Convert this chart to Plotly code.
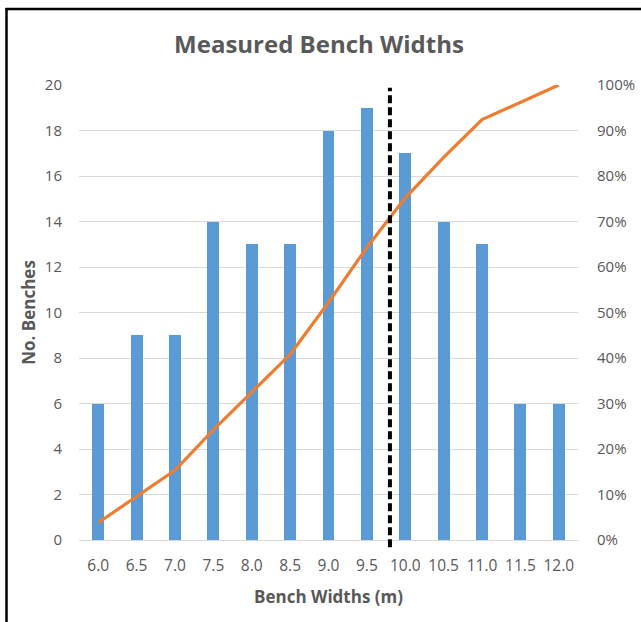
import plotly.graph_objects as go

# Data
bench_widths = [6.0, 6.5, 7.0, 7.5, 8.0, 8.5, 9.0, 9.5, 10.0, 10.5, 11.0, 11.5, 12.0]
tick_labels = ["6.0", "6.5", "7.0", "7.5", "8.0", "8.5", "9.0", "9.5", "10.0", "10.5", "11.0", "11.5", "12.0"]
no_benches = [6, 9, 9, 14, 13, 13, 18, 19, 17, 14, 13, 6, 6]
cumulative_pct = [0.038, 0.096, 0.153, 0.242, 0.325, 0.408, 0.522, 0.643, 0.752, 0.841, 0.924, 0.962, 1.0]
reference_width = 9.8

FONT = "'Open Sans', Lato, sans-serif"
GRAY = "#595959"

fig = go.Figure()
fig.add_trace(go.Bar(
    x=bench_widths, y=no_benches, width=0.155,
    marker=dict(color="#5B9BD5", line=dict(width=0)),
    name="No. Benches", showlegend=False,
))
fig.add_trace(go.Scatter(
    x=bench_widths, y=cumulative_pct, yaxis="y2", mode="lines",
    line=dict(color="#ED7D31", width=3.2),
    name="Cumulative %", showlegend=False,
))

# Dashed reference line
fig.add_shape(type="line", xref="x", yref="paper",
              x0=reference_width, x1=reference_width, y0=-0.016, y1=0.994,
              line=dict(color="black", width=4, dash="8px,4px"))

# Partial frame (left and top border)
L, R, T, B, W, H = 79, 63, 85, 82, 641, 622
pw, ph = W - L - R, H - T - B
def px(xp):
    return (xp - L) / pw
def py(yp):
    return (H - B - yp) / ph
fig.add_shape(type="line", xref="paper", yref="paper",
              x0=px(6.5), x1=px(6.5), y0=py(8), y1=py(640),
              line=dict(color="black", width=2.5))
fig.add_shape(type="line", xref="paper", yref="paper",
              x0=px(5.5), x1=px(660), y0=py(9), y1=py(9),
              line=dict(color="black", width=2.5))

fig.update_layout(
    width=W, height=H,
    margin=dict(l=L, r=R, t=T, b=B, autoexpand=False),
    paper_bgcolor="white", plot_bgcolor="white",
    font=dict(family=FONT, color=GRAY, size=15),
    title=dict(text="<b>Measured Bench Widths</b>", x=319 / W, xref="container", y=1 - 45 / H,
               yref="container", yanchor="middle", xanchor="center",
               font=dict(size=24, color=GRAY, family=FONT), automargin=False),
    xaxis=dict(
        range=[5.75, 12.25], tickvals=bench_widths, ticktext=tick_labels,
        showgrid=False, zeroline=False, showline=True, linecolor="#D9D9D9", linewidth=1,
        ticks="", ticklabelstandoff=11, automargin=False,
        tickfont=dict(size=15.5, color=GRAY),
        title=dict(text="<b>Bench Widths (m)</b>", font=dict(size=17, color=GRAY), standoff=16),
    ),
    yaxis=dict(
        range=[0, 20], dtick=2, showgrid=True, gridcolor="#D9D9D9", gridwidth=1,
        zeroline=False, showline=False, ticks="", ticklabelstandoff=16, automargin=False,
        tickfont=dict(size=15, color=GRAY),
        title=dict(text="<b>No. Benches</b>", font=dict(size=17, color=GRAY), standoff=4),
    ),
    yaxis2=dict(
        range=[0, 1], dtick=0.1, tickformat=".0%", overlaying="y", side="right",
        showgrid=False, zeroline=False, showline=False, ticks="", ticklabelstandoff=18,
        automargin=False,
        tickfont=dict(size=15, color=GRAY),
    ),
    bargap=0,
)

fig.write_html("out.html", config={"displayModeBar": False},
               post_script="document.body.style.margin='0';document.body.style.overflow='hidden';")
